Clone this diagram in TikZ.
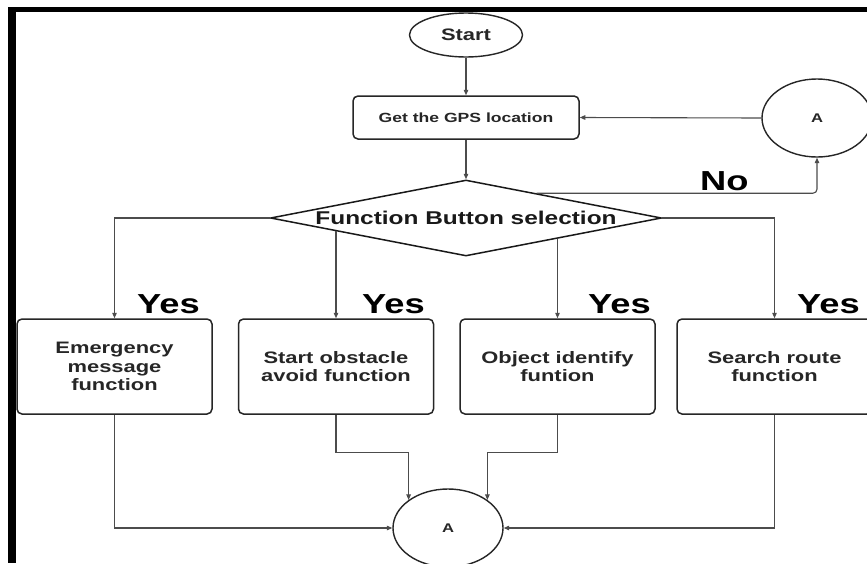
\documentclass[tikz,border=0pt]{standalone}
\usepackage{fontspec}
\setmainfont{Liberation Sans}[FakeStretch=1.32]
\usetikzlibrary{shapes.geometric,arrows.meta,calc}
\begin{document}
\begin{tikzpicture}[x=1pt,y=-1pt,
  conn/.style={draw=black!70, line width=1.1pt, -{Triangle[length=5.5pt,width=4.5pt]}},
  box/.style={draw=black!85, line width=1.5pt, rounded corners=5pt,
    minimum width=195pt, minimum height=95pt, align=center, inner sep=0pt,
    font=\bfseries\fontsize{16.6}{18.5}\selectfont, text=black!85},
  oval/.style={ellipse, draw=black!85, line width=1.4pt, inner sep=0pt, text=black!85},
  lbl/.style={anchor=base west, inner sep=0pt, font=\bfseries\fontsize{27.5}{30}\selectfont}
]
\useasboundingbox (0,0) rectangle (867,563);
\fill[white] (0,0) rectangle (867,563);
% frame
\fill[black] (8,7) rectangle (16,563);
\fill[black] (8,7) rectangle (867,12);

% nodes
\node[oval, minimum width=113pt, minimum height=44pt,
  font=\bfseries\fontsize{16.6}{18}\selectfont] (start) at (466,35) {Start};
\node[draw=black!85, line width=1.5pt, rounded corners=5pt, minimum width=226pt,
  minimum height=43pt, inner sep=0pt, text=black!85,
  font=\bfseries\fontsize{13.3}{15}\selectfont] (gps) at (466,117.5) {Get the GPS location};
\node[diamond, draw=black!90, line width=1.5pt, minimum width=391pt, minimum height=76pt,
  aspect=5.14, inner sep=0pt, text=black!90,
  font=\bfseries\fontsize{18.5}{20}\selectfont] (dia) at (466,218) {Function Button selection};
\node[oval, minimum width=110pt, minimum height=78pt,
  font=\bfseries\fontsize{12.6}{14}\selectfont] (atop) at (817,118) {A};
\node[oval, minimum width=110pt, minimum height=78pt,
  font=\bfseries\fontsize{12.6}{14}\selectfont] (abot) at (448,528) {A};

\node[box] (b1) at (114.5,366.5) {Emergency\\message\\function};
\node[box] (b2) at (336,366.5) {Start obstacle\\avoid function};
\node[box] (b3) at (557.5,366.5) {Object identify\\funtion};
\node[box] (b4) at (774.5,366.5) {Search route\\function};

% labels
\node[lbl] (no) at (700,190) {No};
\node[lbl] (y1) at (137,313) {Yes};
\node[lbl] (y2) at (362,313) {Yes};
\node[lbl] (y3) at (588,313) {Yes};
\node[lbl] (y4) at (797,313) {Yes};

% connectors
\draw[conn] (start.south) -- (gps.north);
\draw[conn] (gps.south) -- (dia.north);
\draw[conn] (atop.west) -- (gps.east);
\coordinate (pno) at ($(dia.north)!0.36!(dia.east)$);
\draw[conn, rounded corners=4pt] (pno) -| (atop.south);
\draw[conn] (dia.west) -| (b1.north);
\draw[conn] (dia.east) -| (b4.north);
\coordinate (q2) at ($(dia.west)!0.338!(dia.south)$);
\coordinate (q3) at ($(dia.south)!0.469!(dia.east)$);
\draw[conn] (b2.north |- q2) -- (b2.north);
\draw[conn] (b3.north |- q3) -- (b3.north);
\draw[conn] (b1.south) |- (abot.west);
\draw[conn] (b4.south) |- (abot.east);
\draw[conn] (b2.south) -- ++(0,38) -| (abot.north west);
\draw[conn] (b3.south) -- ++(0,38) -| (abot.north east);
\end{tikzpicture}
\end{document}
